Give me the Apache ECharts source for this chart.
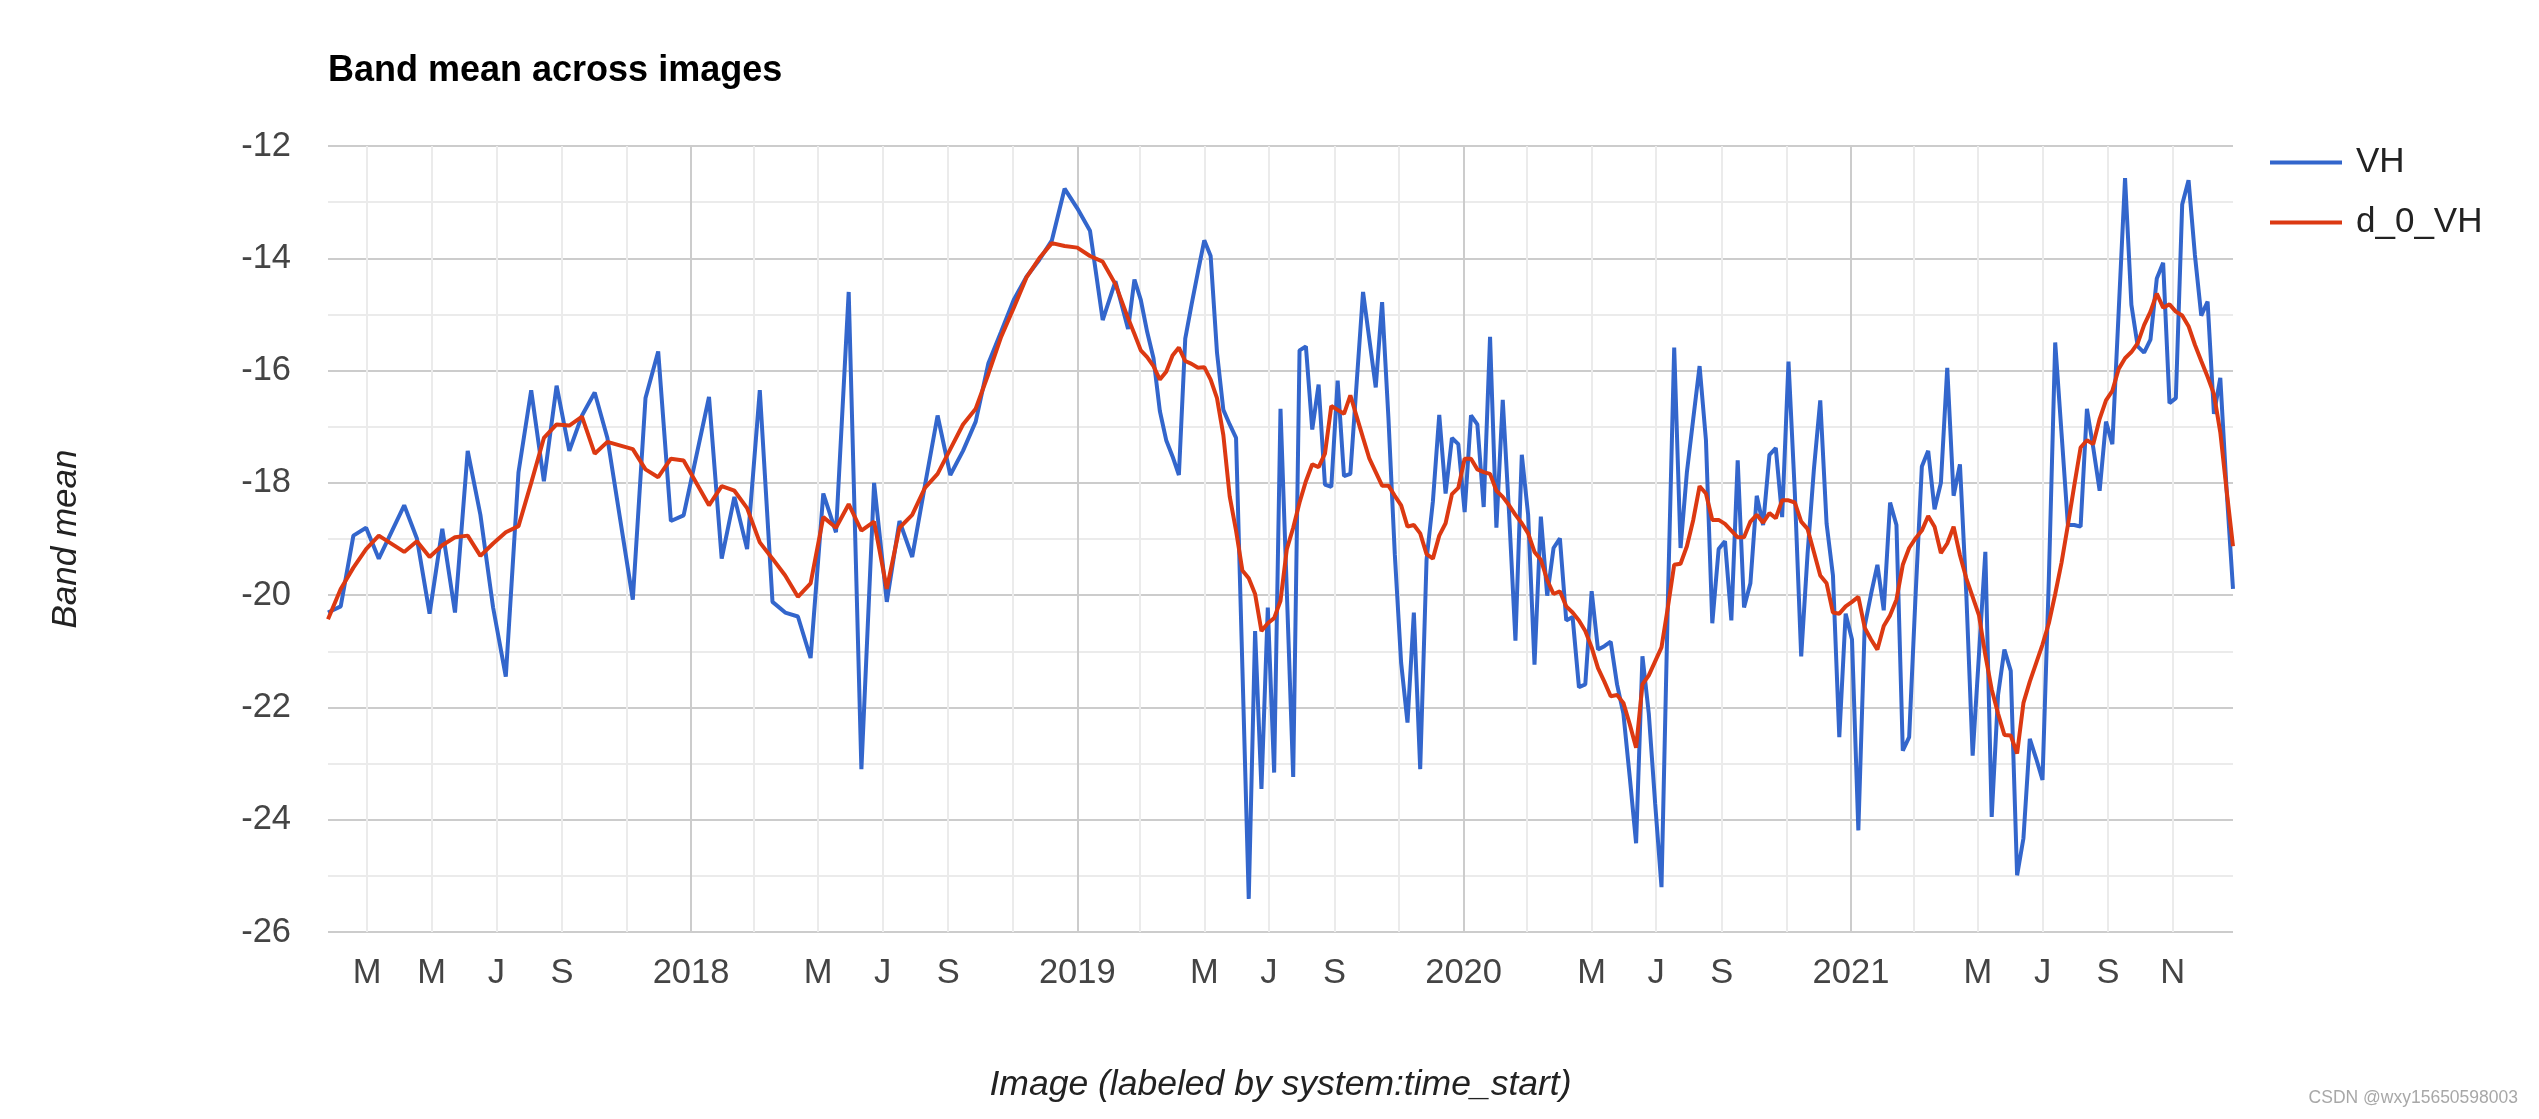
<!DOCTYPE html>
<html><head><meta charset="utf-8">
<script src="https://cdn.jsdelivr.net/npm/echarts@6/dist/echarts.min.js"></script>
<style>html,body{margin:0;padding:0;background:#fff}#c{width:2539px;height:1119px}</style>
</head><body><div id="c"></div>
<script>
const dates = [
'2017-01-23','2017-02-04','2017-02-16','2017-02-28','2017-03-12','2017-04-05','2017-04-17','2017-04-29','2017-05-11','2017-05-23',
'2017-06-04','2017-06-16','2017-06-28','2017-07-10','2017-07-22','2017-08-03','2017-08-15','2017-08-27','2017-09-08','2017-09-20',
'2017-10-02','2017-10-14','2017-11-07','2017-11-19','2017-12-01','2017-12-13','2017-12-25',
'2018-01-18','2018-01-30','2018-02-11','2018-02-23','2018-03-07','2018-03-19','2018-03-31','2018-04-12','2018-04-24','2018-05-06',
'2018-05-18','2018-05-30','2018-06-11','2018-06-23','2018-07-05','2018-07-17','2018-07-29','2018-08-10','2018-08-22','2018-09-03',
'2018-09-15','2018-09-27','2018-10-09','2018-10-21','2018-11-02','2018-11-14','2018-11-26','2018-12-08','2018-12-20',
'2019-01-01','2019-01-13','2019-01-25','2019-02-06','2019-02-18',
'2019-02-24','2019-03-02','2019-03-08','2019-03-14','2019-03-20','2019-03-26','2019-04-01','2019-04-07','2019-04-13','2019-04-19',
'2019-04-25','2019-05-01','2019-05-07','2019-05-13','2019-05-19','2019-05-25','2019-05-31','2019-06-06','2019-06-12','2019-06-18',
'2019-06-24','2019-06-30','2019-07-06','2019-07-12','2019-07-18','2019-07-24','2019-07-30','2019-08-05','2019-08-11','2019-08-17',
'2019-08-23','2019-08-29','2019-09-04','2019-09-10','2019-09-16','2019-09-22','2019-09-28','2019-10-04','2019-10-10','2019-10-16',
'2019-10-22','2019-10-28','2019-11-03','2019-11-09','2019-11-15','2019-11-21','2019-11-27','2019-12-03','2019-12-09','2019-12-15',
'2019-12-21','2019-12-27',
'2020-01-02','2020-01-08','2020-01-14','2020-01-20','2020-01-26','2020-02-01','2020-02-07','2020-02-13','2020-02-19','2020-02-25',
'2020-03-02','2020-03-08','2020-03-14','2020-03-20','2020-03-26','2020-04-01','2020-04-07','2020-04-13','2020-04-19','2020-04-25',
'2020-05-01','2020-05-07','2020-05-13','2020-05-19','2020-05-25','2020-05-31','2020-06-06','2020-06-12','2020-06-18','2020-06-24',
'2020-06-30','2020-07-06','2020-07-12','2020-07-18','2020-07-24','2020-07-30','2020-08-05','2020-08-11','2020-08-17','2020-08-23',
'2020-08-29','2020-09-04','2020-09-10','2020-09-16','2020-09-22','2020-09-28','2020-10-04','2020-10-10','2020-10-16','2020-10-22',
'2020-10-28','2020-11-03','2020-11-09','2020-11-15','2020-11-21','2020-11-27','2020-12-03','2020-12-09','2020-12-15','2020-12-21',
'2020-12-27',
'2021-01-02','2021-01-08','2021-01-14','2021-01-20','2021-01-26','2021-02-01','2021-02-07','2021-02-13','2021-02-19','2021-02-25',
'2021-03-03','2021-03-09','2021-03-15','2021-03-21','2021-03-27','2021-04-02','2021-04-08','2021-04-14','2021-04-20','2021-04-26',
'2021-05-02','2021-05-08','2021-05-14','2021-05-20','2021-05-26','2021-06-01','2021-06-07','2021-06-13','2021-06-19','2021-06-25',
'2021-07-01','2021-07-07','2021-07-13','2021-07-19','2021-07-25','2021-07-31','2021-08-06','2021-08-12','2021-08-18','2021-08-24',
'2021-08-30','2021-09-05','2021-09-11','2021-09-17','2021-09-23','2021-09-29','2021-10-05','2021-10-11','2021-10-17','2021-10-23',
'2021-10-29','2021-11-04','2021-11-10','2021-11-16','2021-11-22','2021-11-28','2021-12-04','2021-12-10','2021-12-16','2021-12-22',
'2021-12-28'
];

const vh = [
-20.31,-20.20,-18.94,-18.80,-19.35,-18.40,-18.99,-20.33,-18.82,-20.31,
-17.43,-18.57,-20.22,-21.45,-17.81,-16.35,-17.97,-16.27,-17.43,-16.80,
-16.39,-17.20,-20.08,-16.49,-15.66,-18.68,-18.58,
-16.47,-19.35,-18.25,-19.18,-16.35,-20.12,-20.31,-20.38,-21.12,-18.19,
-18.88,-14.60,-23.10,-18.00,-20.12,-18.68,-19.32,-18.05,-16.80,-17.86,
-17.43,-16.91,-15.87,-15.31,-14.74,-14.33,-14.03,-13.68,-12.76,
-13.11,-13.51,-15.10,-14.41,-15.26,
-14.38,-14.74,-15.31,-15.78,-16.72,-17.24,-17.53,-17.86,-15.43,-14.82,
-14.24,-13.68,-13.96,-15.68,-16.70,-16.96,-17.20,-21.30,-25.41,-20.64,
-23.45,-20.22,-23.16,-16.68,-19.95,-23.24,-15.64,-15.57,-17.05,-16.25,
-18.03,-18.07,-16.18,-17.88,-17.84,-16.21,-14.60,-15.45,-16.30,-14.78,
-16.85,-19.27,-21.21,-22.27,-20.31,-23.10,-19.37,-18.33,-16.79,-18.19,
-17.20,-17.31,
-18.52,-16.80,-16.96,-18.43,-15.40,-18.80,-16.52,-18.55,-20.81,-17.50,
-18.57,-21.24,-18.60,-20.01,-19.16,-18.99,-20.45,-20.39,-21.64,-21.59,
-19.93,-20.97,-20.91,-20.83,-21.59,-22.11,-23.24,-24.42,-21.09,-22.11,
-23.71,-25.20,-20.12,-15.59,-19.16,-17.81,-16.86,-15.92,-17.24,-20.50,
-19.18,-19.04,-20.45,-17.60,-20.22,-19.79,-18.23,-18.75,-17.50,-17.38,
-18.61,-15.84,-18.19,-21.09,-19.27,-17.76,-16.53,-18.73,-19.65,-22.53,
-20.33,
-20.79,-24.19,-20.55,-19.98,-19.46,-20.27,-18.35,-18.75,-22.77,-22.53,
-20.03,-17.71,-17.43,-18.47,-18.00,-15.95,-18.23,-17.67,-19.98,-22.86,
-21.05,-19.23,-23.95,-21.78,-20.97,-21.35,-24.99,-24.33,-22.56,-22.91,
-23.29,-19.71,-15.50,-17.12,-18.75,-18.75,-18.78,-16.68,-17.38,-18.14,
-16.91,-17.31,-14.94,-12.57,-14.83,-15.57,-15.68,-15.45,-14.36,-14.08,
-16.58,-16.49,-13.04,-12.61,-13.94,-15.02,-14.77,-16.77,-16.13,-18.14,
-19.89
];

const d0vh = [
-20.43,-19.89,-19.51,-19.18,-18.94,-19.23,-19.04,-19.32,-19.11,-18.97,
-18.94,-19.30,-19.08,-18.88,-18.77,-18.00,-17.20,-16.96,-16.98,-16.82,
-17.48,-17.27,-17.40,-17.76,-17.90,-17.57,-17.60,
-18.40,-18.06,-18.14,-18.45,-19.06,-19.35,-19.65,-20.03,-19.79,-18.61,
-18.80,-18.38,-18.85,-18.69,-19.89,-18.80,-18.57,-18.09,-17.84,-17.40,
-16.96,-16.68,-16.06,-15.40,-14.88,-14.34,-14.00,-13.73,-13.78,
-13.81,-13.96,-14.06,-14.46,-15.07,
-15.35,-15.64,-15.76,-15.92,-16.16,-16.02,-15.73,-15.59,-15.83,-15.88,
-15.95,-15.94,-16.16,-16.49,-17.15,-18.24,-18.85,-19.56,-19.70,-19.98,
-20.64,-20.50,-20.41,-20.10,-19.18,-18.80,-18.35,-17.97,-17.67,-17.72,
-17.48,-16.63,-16.70,-16.77,-16.44,-16.82,-17.20,-17.57,-17.81,-18.05,
-18.05,-18.23,-18.40,-18.78,-18.75,-18.90,-19.27,-19.35,-18.94,-18.72,
-18.20,-18.09,
-17.57,-17.57,-17.76,-17.81,-17.84,-18.14,-18.25,-18.40,-18.57,-18.72,
-18.90,-19.23,-19.37,-19.73,-19.98,-19.93,-20.20,-20.31,-20.45,-20.64,
-20.93,-21.30,-21.54,-21.80,-21.78,-21.92,-22.30,-22.72,-21.59,-21.43,
-21.18,-20.93,-20.22,-19.46,-19.44,-19.13,-18.66,-18.06,-18.19,-18.66,
-18.66,-18.73,-18.85,-18.97,-18.97,-18.69,-18.57,-18.71,-18.54,-18.63,
-18.31,-18.31,-18.35,-18.69,-18.82,-19.23,-19.65,-19.79,-20.31,-20.33,
-20.20,
-20.12,-20.03,-20.58,-20.79,-20.97,-20.55,-20.36,-20.08,-19.46,-19.16,
-18.99,-18.85,-18.59,-18.78,-19.25,-19.08,-18.78,-19.29,-19.70,-20.03,
-20.36,-21.07,-21.68,-22.11,-22.49,-22.50,-22.82,-21.92,-21.54,-21.21,
-20.88,-20.50,-19.98,-19.42,-18.75,-18.05,-17.37,-17.24,-17.31,-16.86,
-16.53,-16.36,-15.97,-15.78,-15.67,-15.51,-15.19,-14.95,-14.63,-14.88,
-14.82,-14.95,-15.02,-15.21,-15.54,-15.83,-16.11,-16.42,-17.10,-18.14,
-19.13
];

const tickDates = ['2017-03-01','2017-05-01','2017-07-01','2017-09-01','2018-01-01','2018-05-01','2018-07-01','2018-09-01',
  '2019-01-01','2019-05-01','2019-07-01','2019-09-01','2020-01-01','2020-05-01','2020-07-01','2020-09-01',
  '2021-01-01','2021-05-01','2021-07-01','2021-09-01','2021-11-01'];
const tickLabels = ['M','M','J','S','2018','M','J','S','2019','M','J','S','2020','M','J','S','2021','M','J','S','N'];

const gridMonths = ['2017-03-01','2017-05-01','2017-07-01','2017-09-01','2017-11-01',
  '2018-03-01','2018-05-01','2018-07-01','2018-09-01','2018-11-01',
  '2019-03-01','2019-05-01','2019-07-01','2019-09-01','2019-11-01',
  '2020-03-01','2020-05-01','2020-07-01','2020-09-01','2020-11-01',
  '2021-03-01','2021-05-01','2021-07-01','2021-09-01','2021-11-01'];
const yearLines = ['2018-01-01','2019-01-01','2020-01-01','2021-01-01'];

function ts(s){const p=s.split('-');return Date.UTC(+p[0],+p[1]-1,+p[2]);}
const tickTs = tickDates.map(ts);
const labelMap = {};
tickTs.forEach((t,i)=>{labelMap[t]=tickLabels[i];});

const FONT = 'Arial, "Liberation Sans", sans-serif';
const chart = echarts.init(document.getElementById('c'), null, {renderer:'canvas'});

const gridLineData = gridMonths.map(d=>({xAxis: ts(d)}))
  .concat(yearLines.map(d=>({xAxis: ts(d), lineStyle:{color:'#cccccc', width:2, type:'solid'}})));

chart.setOption({
  animation: false,
  backgroundColor: '#ffffff',
  textStyle: {fontFamily: FONT},
  title: {
    text: 'Band mean across images', left: 328, top: 53, padding: 0,
    textStyle: {fontFamily: FONT, fontSize: 36, fontWeight: 'bold', color: '#000000'}
  },
  legend: {
    orient: 'vertical', left: 2270, top: 145, padding: 0, itemGap: 25,
    icon: 'rect', itemWidth: 72, itemHeight: 4,
    data: ['VH','d_0_VH'],
    textStyle: {fontFamily: FONT, fontSize: 35, color: '#222222', padding: [0,0,0,9]}
  },
  grid: {left: 328, right: 306, top: 146, bottom: 187},
  xAxis: {
    type: 'value',
    min: ts(dates[0]), max: ts(dates[dates.length-1]),
    axisLine: {show: false},
    axisTick: {show: false},
    splitLine: {show: false},
    axisLabel: {
      customValues: tickTs,
      formatter: v => labelMap[v] || '',
      color: '#444444', fontSize: 34.5, fontFamily: FONT, margin: 24, hideOverlap: false,
      showMinLabel: true, showMaxLabel: true
    },
    name: 'Image (labeled by system:time_start)',
    nameLocation: 'middle', nameGap: 135,
    nameTextStyle: {fontFamily: FONT, fontSize: 35.5, fontStyle: 'italic', color: '#222222'}
  },
  yAxis: {
    type: 'value', min: -26, max: -12, interval: 2,
    axisLine: {show: false}, axisTick: {show: false},
    splitLine: {show: true, lineStyle: {color: '#cccccc', width: 2}},
    minorTick: {show: false, splitNumber: 2},
    minorSplitLine: {show: true, lineStyle: {color: '#ebebeb', width: 2}},
    axisLabel: {color: '#444444', fontSize: 34.5, fontFamily: FONT, margin: 37},
    name: 'Band mean', nameLocation: 'middle', nameGap: 244,
    nameTextStyle: {fontFamily: FONT, fontSize: 35, fontStyle: 'italic', color: '#222222'}
  },
  graphic: [{
    type: 'text', right: 21, top: 1089,
    style: {text: 'CSDN @wxy15650598003', fontSize: 17.5, fontFamily: FONT, fill: '#a8a8a8'}
  }],
  series: [
    {
      name: 'VH', type: 'line', z: 2,
      data: dates.map((d,i)=>[ts(d), vh[i]]),
      showSymbol: false, symbol: 'none',
      lineStyle: {width: 4, color: '#3366cc'},
      itemStyle: {color: '#3366cc'},
      emphasis: {disabled: true},
      markLine: {
        silent: true, z: 1, animation: false,
        symbol: ['none','none'],
        label: {show: false},
        emphasis: {disabled: true},
        lineStyle: {color: '#ebebeb', width: 2, type: 'solid'},
        data: gridLineData
      }
    },
    {
      name: 'd_0_VH', type: 'line', z: 3,
      data: dates.map((d,i)=>[ts(d), d0vh[i]]),
      showSymbol: false, symbol: 'none',
      lineStyle: {width: 4, color: '#dc3912'},
      itemStyle: {color: '#dc3912'},
      emphasis: {disabled: true}
    }
  ]
});
</script>
</body></html>
